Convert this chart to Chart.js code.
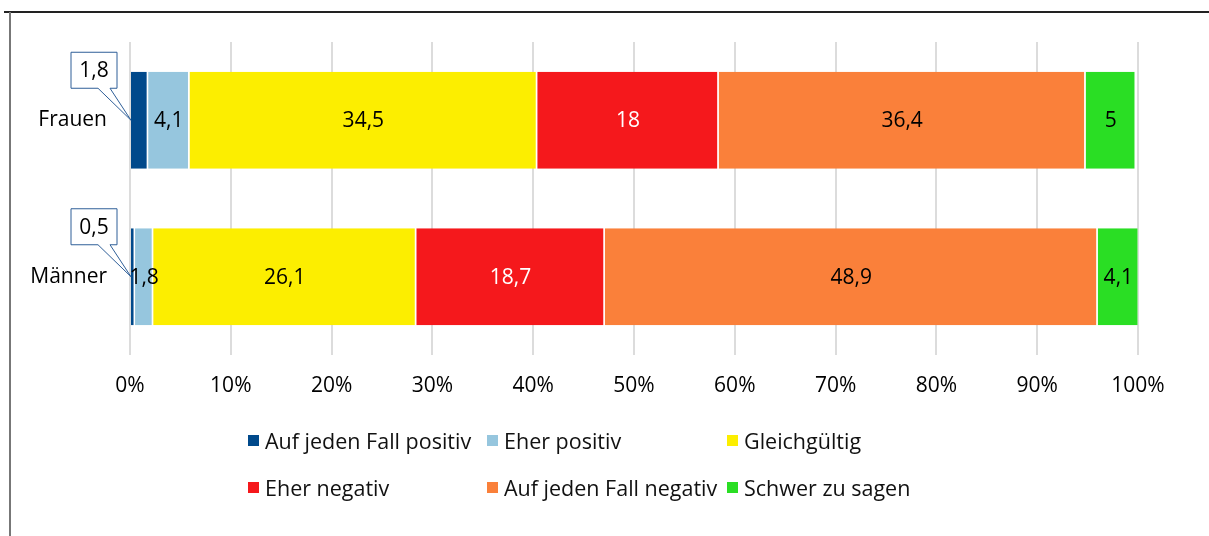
<!DOCTYPE html>
<html>
<head>
<meta charset="utf-8">
<script src="https://cdn.jsdelivr.net/npm/chart.js@4"></script>
<style>
  html, body { margin: 0; padding: 0; background: #fff; }
  #wrap { position: relative; width: 1209px; height: 536px; overflow: hidden; font-family: "Open Sans", sans-serif; }
  #c { position: absolute; left: 0; top: 0; }
  .frameTop { position: absolute; left: 4px; top: 11px; width: 1205px; height: 2px; background: #222; }
  .frameLeft { position: absolute; left: 9px; top: 12px; width: 2px; height: 524px; background: #777; }
  .lg { position: absolute; display: flex; align-items: center; font-size: 21.5px; color: #111; white-space: nowrap; }
  .lg span.box { display: inline-block; width: 11px; height: 11px; margin-right: 6px; }
</style>
</head>
<body>
<div id="wrap">
  <div class="frameTop"></div>
  <div class="frameLeft"></div>
  <canvas id="c" width="1209" height="536"></canvas>
  <div id="legend"></div>
</div>
<script>
const categories = ["Frauen", "Männer"];
const seriesNames = ["Auf jeden Fall positiv", "Eher positiv", "Gleichgültig", "Eher negativ", "Auf jeden Fall negativ", "Schwer zu sagen"];
const aufJedenFallPositiv = [1.8, 0.5];
const eherPositiv = [4.1, 1.8];
const gleichgueltig = [34.5, 26.1];
const eherNegativ = [18, 18.7];
const aufJedenFallNegativ = [36.4, 48.9];
const schwerZuSagen = [5, 4.1];
const tickValues = [0, 10, 20, 30, 40, 50, 60, 70, 80, 90, 100];
const colors = ["#00498b", "#96c6de", "#fcee00", "#f5181c", "#fa803a", "#2ade24"];
const labelColors = ["#000", "#000", "#000", "#fff", "#000", "#000"];

const seriesValues = [aufJedenFallPositiv, eherPositiv, gleichgueltig, eherNegativ, aufJedenFallNegativ, schwerZuSagen];
const FONT = '"Open Sans", sans-serif';
const fmt = v => String(v).replace('.', ',');

const datasets = seriesNames.map((name, i) => ({
  label: name,
  data: seriesValues[i],
  backgroundColor: colors[i],
  borderColor: 'rgba(255,255,255,0.85)',
  borderWidth: { top: 0, bottom: 0, left: 0, right: 1.5 },
  borderSkipped: false,
  categoryPercentage: 1,
  barPercentage: 0.62
}));

const labelPlugin = {
  id: 'labels',
  afterDatasetsDraw(chart) {
    const ctx = chart.ctx;
    ctx.save();
    ctx.font = '21px ' + FONT;
    ctx.textAlign = 'center';
    ctx.textBaseline = 'middle';
    chart.data.datasets.forEach((ds, di) => {
      const meta = chart.getDatasetMeta(di);
      meta.data.forEach((el, i) => {
        const v = ds.data[i];
        if (di === 0) {
          const bx = el.base - 60, by = el.y - 68, bw = 46, bh = 36;
          ctx.beginPath();
          ctx.moveTo(bx, by);
          ctx.lineTo(bx + bw, by);
          ctx.lineTo(bx + bw, by + bh);
          ctx.lineTo(bx + 39, by + bh);
          ctx.lineTo(el.base, el.y);
          ctx.lineTo(bx + 27, by + bh);
          ctx.lineTo(bx, by + bh);
          ctx.closePath();
          ctx.fillStyle = '#fff';
          ctx.fill();
          ctx.lineWidth = 1;
          ctx.strokeStyle = '#2f5f98';
          ctx.stroke();
          ctx.fillStyle = '#000';
          ctx.fillText(fmt(v), bx + bw / 2, by + bh / 2 + 1);
        } else {
          const cx = (el.base + el.x) / 2;
          ctx.fillStyle = labelColors[di];
          ctx.fillText(fmt(v), cx, el.y + 1);
        }
      });
    });
    ctx.restore();
  }
};

new Chart(document.getElementById('c'), {
  type: 'bar',
  data: { labels: categories, datasets },
  options: {
    indexAxis: 'y',
    responsive: false,
    animation: false,
    layout: { padding: { top: 42, right: 71, bottom: 131, left: 0 } },
    plugins: { legend: { display: false }, tooltip: { enabled: false } },
    scales: {
      x: {
        stacked: true,
        min: 0, max: 100,
        afterBuildTicks: s => { s.ticks = tickValues.map(v => ({ value: v })); },
        afterFit: s => { s.height = 50; },
        grid: { color: '#dcdcdc', lineWidth: 2, drawTicks: false },
        border: { display: false },
        ticks: { padding: 18, color: '#000', font: { size: 21, family: FONT }, callback: v => v + '%' }
      },
      y: {
        stacked: true,
        afterFit: s => { s.width = 130; },
        grid: { display: false },
        border: { display: false },
        ticks: { padding: 15, color: '#000', font: { size: 21, family: FONT } }
      }
    }
  },
  plugins: [labelPlugin]
});

const lefts = [248, 487, 727];
const tops = [440, 487];
const lg = document.getElementById('legend');
seriesNames.forEach((name, i) => {
  const d = document.createElement('div');
  d.className = 'lg';
  d.style.left = lefts[i % 3] + 'px';
  d.style.top = (tops[Math.floor(i / 3)] - 15) + 'px';
  d.style.height = '30px';
  d.innerHTML = '<span class="box" style="background:' + colors[i] + '"></span>' + name;
  lg.appendChild(d);
});
</script>
</body>
</html>
